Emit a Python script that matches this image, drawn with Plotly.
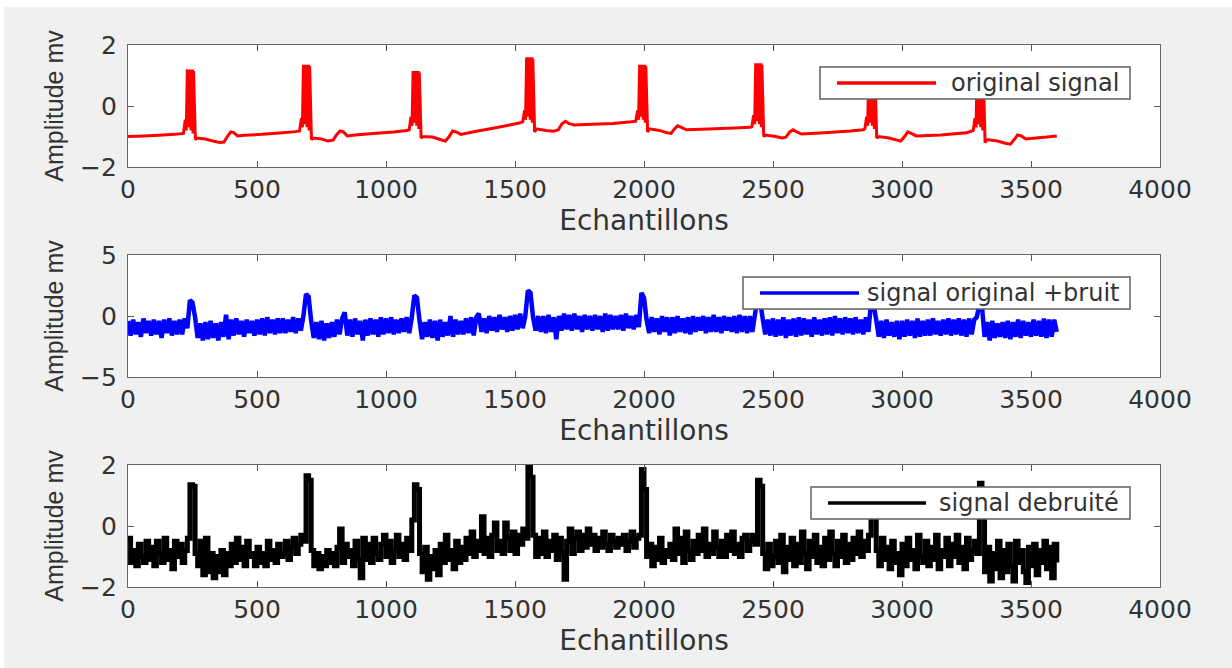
import plotly.graph_objects as go

W, H = 1232, 668

# ---------------- data ----------------
x_title = "Echantillons"
y_title = "Amplitude mv"
series_names = ["original signal", "signal original +bruit", "signal debruité"]
x_ticks = [0, 500, 1000, 1500, 2000, 2500, 3000, 3500, 4000]
y_ticks_top = [-2, 0, 2]
y_ticks_mid = [-5, 0, 5]
y_ticks_bot = [-2, 0, 2]

orig_x = [0, 60, 120, 180,
          215, 222, 226, 230, 232, 234, 236, 238, 240, 242, 244, 246, 248, 250, 252, 254, 261, 268,
          300, 330, 355, 372, 385, 398, 410, 425, 450, 520, 600, 650,
          665, 672, 676, 680, 682, 684, 686, 688, 690, 692, 694, 696, 698, 700, 702, 704, 711, 718,
          750, 775, 795, 808, 822, 835, 850, 880, 950, 1030, 1080,
          1090, 1097, 1101, 1105, 1107, 1109, 1111, 1113, 1115, 1117, 1119, 1121, 1123, 1125, 1127, 1129, 1136, 1143,
          1180, 1210, 1230, 1245, 1258, 1272, 1290, 1350, 1420, 1480, 1520,
          1530, 1537, 1541, 1545, 1547, 1549, 1551, 1553, 1555, 1557, 1559, 1561, 1563, 1565, 1567, 1569, 1576, 1583,
          1620, 1650, 1668, 1682, 1695, 1710, 1730, 1800, 1880, 1950,
          1968, 1975, 1979, 1983, 1985, 1987, 1989, 1991, 1993, 1995, 1997, 1999, 2001, 2003, 2005, 2007, 2014, 2021,
          2060, 2090, 2105, 2118, 2130, 2145, 2165, 2250, 2350, 2410,
          2418, 2425, 2429, 2433, 2435, 2437, 2439, 2441, 2443, 2445, 2447, 2449, 2451, 2453, 2455, 2457, 2464, 2471,
          2510, 2535, 2550, 2565, 2578, 2592, 2610, 2700, 2800, 2850,
          2856, 2863, 2867, 2871, 2873, 2875, 2877, 2879, 2881, 2883, 2885, 2887, 2889, 2891, 2893, 2895, 2902, 2909,
          2950, 2980, 2995, 3010, 3022, 3036, 3055, 3150, 3250, 3270,
          3276, 3283, 3287, 3291, 3293, 3295, 3297, 3299, 3301, 3303, 3305, 3307, 3309, 3311, 3313, 3315, 3322, 3329,
          3370, 3400, 3420, 3435, 3448, 3462, 3480, 3520, 3560, 3600]
orig_y = [-1.0, -0.98, -0.96, -0.93,
          -0.9, -0.45, -0.8, 1.2, -0.6, 1.2, -0.7, 1.2, -0.7, 1.2, -0.8, 1.2, -0.8, 1.2, -0.9, 1.15, -1.1, -1.05,
          -1.08, -1.15, -1.2, -1.18, -1.0, -0.85, -0.87, -0.98, -0.96, -0.93, -0.88, -0.84,
          -0.82, -0.4, -0.7, 1.35, -0.5, 1.35, -0.6, 1.35, -0.6, 1.35, -0.7, 1.35, -0.7, 1.35, -0.8, 1.3, -1.1, -1.05,
          -1.08, -1.15, -1.12, -0.95, -0.82, -0.85, -0.98, -0.95, -0.9, -0.85, -0.8,
          -0.78, -0.35, -0.65, 1.15, -0.45, 1.15, -0.55, 1.15, -0.55, 1.15, -0.65, 1.15, -0.65, 1.15, -0.75, 1.1, -1.05, -1.0,
          -1.02, -1.1, -1.15, -1.0, -0.82, -0.85, -0.93, -0.83, -0.72, -0.62, -0.55,
          -0.52, -0.15, -0.45, 1.6, -0.25, 1.6, -0.35, 1.6, -0.35, 1.6, -0.45, 1.6, -0.45, 1.6, -0.55, 1.55, -0.85, -0.75,
          -0.8, -0.83, -0.78, -0.58, -0.5, -0.58, -0.62, -0.6, -0.57, -0.52,
          -0.5, -0.15, -0.45, 1.35, -0.25, 1.35, -0.35, 1.35, -0.35, 1.35, -0.45, 1.35, -0.45, 1.35, -0.55, 1.3, -0.85, -0.75,
          -0.8, -0.88, -0.9, -0.75, -0.65, -0.7, -0.78, -0.75, -0.72, -0.7,
          -0.68, -0.3, -0.6, 1.4, -0.4, 1.4, -0.5, 1.4, -0.5, 1.4, -0.6, 1.4, -0.6, 1.4, -0.7, 1.35, -1.0, -0.95,
          -1.0, -1.05, -1.02, -0.85, -0.78, -0.85, -0.92, -0.88, -0.82, -0.78,
          -0.75, -0.35, -0.65, 1.2, -0.45, 1.2, -0.55, 1.2, -0.55, 1.2, -0.65, 1.2, -0.65, 1.2, -0.75, 1.15, -1.05, -1.0,
          -1.05, -1.12, -1.15, -1.0, -0.85, -0.9, -0.98, -0.95, -0.88, -0.82,
          -0.8, -0.4, -0.7, 1.2, -0.5, 1.2, -0.6, 1.2, -0.6, 1.2, -0.7, 1.2, -0.7, 1.2, -0.8, 1.15, -1.2, -1.1,
          -1.15, -1.22, -1.25, -1.1, -0.95, -0.98, -1.08, -1.05, -1.02, -0.98]

samples = list(range(0, 3601, 10))
noisy_y = [
    -0.4, -1.6, -0.3, -1.5, -0.5, -1.7, -0.2, -1.4, -0.4, -1.6,
    -0.3, -1.5, -0.4, -1.8, -0.3, -1.4, -0.2, -1.6, -0.4, -1.5,
    -0.3, -1.5, -0.2, -1.0, 1.3, 1.1, -0.1, -1.8, -0.6, -2.0,
    -0.5, -1.9, -0.4, -1.8, -0.6, -2.0, -0.5, -1.7, 0.1, -1.9,
    -0.3, -1.6, -0.2, -1.5, -0.4, -1.7, -0.3, -1.4, -0.4, -1.6,
    -0.3, -1.5, -0.2, -1.6, -0.1, -1.4, -0.3, -1.5, -0.2, -1.4,
    -0.2, -1.4, -0.3, -1.3, -0.1, -1.4, -0.2, -1.2, 0.0, 1.8,
    1.6, -0.4, -1.8, -0.5, -1.9, -0.4, -2.0, -0.6, -1.8, -0.5,
    -1.7, -0.3, -1.5, -0.2, 0.3, -1.6, -0.3, -1.7, -0.2, -1.5,
    -0.4, -2.0, -0.3, -1.6, -0.2, -1.5, -0.3, -1.7, -0.1, -1.5,
    -0.2, -1.4, -0.1, -1.5, -0.3, -1.4, -0.2, -1.3, -0.1, -1.4,
    -0.1, 1.7, 1.5, -0.4, -1.9, -0.5, -1.7, -0.3, -1.8, -0.4,
    -2.0, -0.3, -1.7, -0.5, -1.6, 0.0, -1.7, -0.3, -1.5, -0.4,
    -1.5, -0.2, -1.4, -0.1, -1.6, -0.1, 0.2, -1.3, -0.2, -1.4,
    0.0, -1.2, -0.1, -1.3, 0.1, -1.1, -0.1, -1.3, 0.0, -1.2,
    0.1, -1.1, 0.2, -1.0, 0.0, 2.1, 1.9, -0.1, -1.2, 0.0,
    -1.3, 0.0, -1.4, 0.1, -1.3, -0.1, -1.9, 0.0, -1.2, 0.2,
    -1.1, 0.1, -1.2, 0.2, -1.1, 0.0, -1.3, 0.1, -1.1, 0.0,
    -1.2, 0.1, -1.1, 0.0, -1.3, 0.2, -1.2, 0.1, -1.1, 0.0,
    -1.1, 0.1, -1.2, 0.2, -1.0, 0.0, -1.1, 0.1, -0.9, 1.9,
    1.5, -0.3, -1.4, -0.1, -1.3, -0.2, -1.5, 0.0, -1.3, -0.1,
    -1.6, -0.1, -1.4, 0.0, -1.3, -0.2, -1.4, -0.1, -1.5, 0.0,
    -1.3, -0.1, -1.2, 0.0, -1.4, -0.1, -1.3, 0.1, -1.3, -0.1,
    -1.4, 0.0, -1.2, -0.1, -1.3, 0.0, -1.4, 0.1, -1.3, 0.0,
    -1.4, 0.0, -1.3, 0.1, 1.5, 1.2, -0.2, -1.5, -0.3, -1.6,
    -0.2, -1.7, -0.3, -1.6, -0.1, -1.8, -0.3, -1.6, -0.2, -1.7,
    -0.1, -1.6, -0.2, -1.5, -0.3, -1.7, -0.1, -1.5, -0.3, -1.6,
    -0.2, -1.5, -0.1, -1.6, 0.0, -1.4, -0.2, -1.5, -0.1, -1.4,
    -0.2, -1.5, -0.1, -1.4, -0.3, -1.5, -0.1, -1.3, 1.2, 0.9,
    -0.3, -1.7, -0.4, -1.8, -0.3, -1.6, -0.5, -1.7, -0.4, -1.9,
    -0.4, -1.7, -0.3, -1.6, -0.4, -1.8, -0.2, -1.7, -0.4, -1.6,
    -0.3, -1.6, -0.2, -1.5, -0.4, -1.6, -0.3, -1.5, -0.2, -1.6,
    -0.3, -1.5, -0.2, -1.6, -0.3, -1.7, -0.2, -1.5, -0.3, -0.1,
    1.0, 0.8, -1.7, -0.5, -2.0, -0.4, -1.8, -0.6, -1.7, -0.5,
    -1.8, -0.4, -1.9, -0.5, -1.7, -0.3, -1.8, -0.4, -1.6, -0.5,
    -1.7, -0.3, -1.6, -0.4, -1.7, -0.2, -1.8, -0.3, -1.7, -0.3,
    -1.3]
denoised_y = [
    -0.4, -1.2, -0.8, -1.3, -0.6, -1.0, -1.2, -0.5, -1.1, -0.7,
    -1.3, -0.5, -0.9, -1.2, -0.4, -1.1, -0.8, -1.4, -0.5, -1.0,
    -0.6, -1.2, -0.8, -0.4, 1.35, 1.3, -0.9, -1.3, -0.5, -1.6,
    -0.4, -1.5, -0.9, -1.7, -1.0, -1.5, -0.8, -1.6, -0.9, -1.3,
    -0.6, -1.2, -0.4, -1.1, -0.7, -1.3, -0.5, -1.0, -0.9, -1.3,
    -0.7, -1.2, -0.9, -1.3, -0.5, -1.1, -0.8, -1.2, -0.6, -1.0,
    -0.9, -0.5, -1.1, -0.7, -0.4, -0.9, -0.6, -0.3, -0.5, 1.65,
    1.5, -0.8, -1.3, -0.9, -1.4, -1.0, -1.3, -0.8, -1.2, -0.9,
    -1.3, -0.7, -0.1, -1.2, -0.6, -1.0, -0.8, -1.3, -0.5, -1.1,
    -1.7, -0.4, -1.1, -0.6, -1.2, -0.4, -0.9, -1.1, -0.6, -0.3,
    -1.0, -0.5, -1.2, -0.8, -0.3, -1.0, -0.6, -1.1, -0.4, -0.8,
    0.2, 1.35, 1.2, -0.9, -1.5, -0.7, -1.75, -1.0, -1.4, -0.8,
    -1.6, -0.6, -1.2, -0.3, -1.1, -0.8, -1.4, -0.5, -1.2, -0.7,
    -1.1, -0.4, -0.9, -0.2, -1.0, -0.5, -0.8, 0.3, -0.9, -0.4,
    -1.0, -0.3, 0.1, -0.8, -0.5, -0.9, 0.1, -0.4, -0.8, -0.2,
    -0.9, -0.3, -0.6, -0.1, -0.4, 1.95, 1.6, -0.3, -1.0, -0.4,
    -0.9, -0.2, -1.0, -0.5, -0.8, -0.3, -1.1, -0.4, -0.9, -1.75,
    -0.5, -0.1, -0.9, -0.4, -0.2, -0.8, -0.3, -0.7, -0.1, -0.6,
    -0.3, -0.8, -0.4, -0.7, -0.2, -0.6, -0.8, -0.3, -0.5, -0.7,
    -0.4, -0.6, -0.3, -0.8, -0.5, -0.2, -0.7, -0.4, -0.3, 1.85,
    1.2, -1.0, -0.6, -1.3, -0.7, -1.1, -0.4, -1.2, -0.8, -1.0,
    -0.6, -1.1, -0.1, -0.9, -0.4, -1.2, -0.2, -0.8, -1.1, -0.5,
    -0.9, -0.3, -0.8, -0.1, -1.0, -0.6, -0.9, -0.2, -0.7, -1.0,
    -0.5, -1.0, -0.3, -0.8, -0.2, -0.9, -0.6, -1.0, -0.4, -0.3,
    -0.8, -0.5, -0.3, -0.6, 1.5, 1.3, -0.9, -1.4, -0.6, -1.3,
    -1.0, -0.5, -1.2, -0.3, -1.5, -0.7, -1.1, -0.4, -1.3, -0.6,
    -1.2, -0.2, -0.9, -1.4, -0.5, -1.0, -0.3, -1.2, -0.7, -1.3,
    -0.4, -1.1, -0.2, -0.9, -1.3, -0.5, -1.0, -0.3, -1.2, -0.6,
    -1.1, -0.4, -0.9, -0.2, -1.0, -0.5, -0.8, -0.3, 1.1, 0.8,
    -0.8, -1.3, -0.4, -1.1, -0.7, -1.4, -0.5, -1.2, -0.9, -1.6,
    -0.6, -1.3, -0.4, -1.1, -0.8, -1.4, -0.3, -1.0, -1.2, -0.5,
    -1.3, -0.7, -1.1, -0.3, -1.4, -0.8, -1.0, -0.4, -1.3, -0.6,
    -1.0, -0.3, -1.2, -0.7, -1.4, -0.4, -1.1, -0.8, -0.5, -0.9,
    1.4, 0.6, -1.5, -0.7, -1.8, -0.9, -1.4, -0.5, -1.7, -0.8,
    -1.5, -0.6, -1.3, -1.8, -0.5, -1.2, -0.8, -1.5, -1.85, -0.7,
    -1.3, -0.6, -1.6, -0.8, -1.2, -0.5, -1.4, -0.7, -1.7, -0.6,
    -1.2]

colors = ["#ff0000", "#0000ff", "#000000"]


def px(x):
    return x / W


def py(y):
    return 1 - y / H


FRAME_L, FRAME_R = 128, 1160
frames = [(45, 167), (255, 377), (465, 587)]
TICK_FONT = dict(family="DejaVu Sans", size=25, color="#333333")
XT_FONT = dict(family="DejaVu Sans", size=28, color="#333333")
YT_FONT = dict(family="Liberation Sans, Arial", size=25, color="#333333")

fig = go.Figure()
fig.add_trace(go.Scatter(x=orig_x, y=orig_y, mode="lines", name=series_names[0],
                         line=dict(color=colors[0], width=3, simplify=False),
                         xaxis="x", yaxis="y", showlegend=False))
fig.add_trace(go.Scatter(x=samples, y=noisy_y, mode="lines", name=series_names[1],
                         line=dict(color=colors[1], width=4.5, simplify=False),
                         xaxis="x2", yaxis="y2", showlegend=False))
fig.add_trace(go.Scatter(x=samples, y=denoised_y, mode="lines", name=series_names[2],
                         line=dict(color=colors[2], width=5, shape="hv", simplify=False),
                         xaxis="x3", yaxis="y3", showlegend=False))

yranges = [[-2, 2], [-5, 5], [-2, 2]]
yticks = [y_ticks_top, y_ticks_mid, y_ticks_bot]
layout = dict(
    template="none",
    width=W, height=H, autosize=False,
    margin=dict(l=0, r=0, t=0, b=0, pad=0, autoexpand=False),
    paper_bgcolor="#f0f0f0", plot_bgcolor="#ffffff",
    showlegend=False,
)
for i, (top, bot) in enumerate(frames):
    sx = "" if i == 0 else str(i + 1)
    layout["xaxis" + sx] = dict(
        domain=[px(FRAME_L), px(FRAME_R)], range=[0, 4000], automargin=False,
        anchor="y" + sx, tickmode="array", tickvals=x_ticks,
        ticks="inside", ticklen=6, tickcolor="#555555", tickwidth=1,
        showline=True, linecolor="#666666", linewidth=1.2, mirror="ticks",
        showgrid=False, zeroline=False, tickfont=TICK_FONT,
        ticklabelstandoff=0,
        title=dict(text=x_title, font=XT_FONT, standoff=1),
    )
    layout["yaxis" + sx] = dict(
        domain=[py(bot), py(top)], range=yranges[i], automargin=False,
        anchor="x" + sx, tickmode="array", tickvals=yticks[i],
        ticks="inside", ticklen=6, tickcolor="#555555", tickwidth=1,
        showline=True, linecolor="#666666", linewidth=1.2, mirror="ticks",
        showgrid=False, zeroline=False, tickfont=TICK_FONT,
        ticklabelstandoff=5,
        title=dict(text=y_title, font=YT_FONT, standoff=9),
    )
fig.update_layout(**layout)

# thin white strips along the top and left edges of the screenshot
fig.add_shape(type="rect", xref="paper", yref="paper", x0=0, x1=1,
              y0=py(7), y1=1, fillcolor="#ffffff", line_width=0, layer="below")
fig.add_shape(type="rect", xref="paper", yref="paper", x0=0, x1=px(4),
              y0=0, y1=1, fillcolor="#ffffff", line_width=0, layer="below")

legend_boxes = [
    (820, 67, 99, 837, 936),
    (743, 277, 309, 760, 859),
    (811, 487, 519, 828, 926),
]
for i, (bl, bt, bb, lx0, lx1) in enumerate(legend_boxes):
    fig.add_shape(type="rect", xref="paper", yref="paper",
                  x0=px(bl), x1=px(1130), y0=py(bb), y1=py(bt),
                  fillcolor="#ffffff", line=dict(color="#606060", width=1.5),
                  layer="above")
    ym = (bt + bb) / 2
    fig.add_shape(type="line", xref="paper", yref="paper",
                  x0=px(lx0), x1=px(lx1), y0=py(ym), y1=py(ym),
                  line=dict(color=colors[i], width=3.5), layer="above")
    fig.add_annotation(xref="paper", yref="paper", x=px(1121), y=py(ym),
                       xanchor="right", yanchor="middle", showarrow=False,
                       text=series_names[i],
                       font=dict(family="DejaVu Sans", size=24, color="#333333"))

fig.write_html(
    "out.html",
    config={"displayModeBar": False, "responsive": False},
    post_script="document.body.style.margin='0';document.body.style.overflow='hidden';",
)
